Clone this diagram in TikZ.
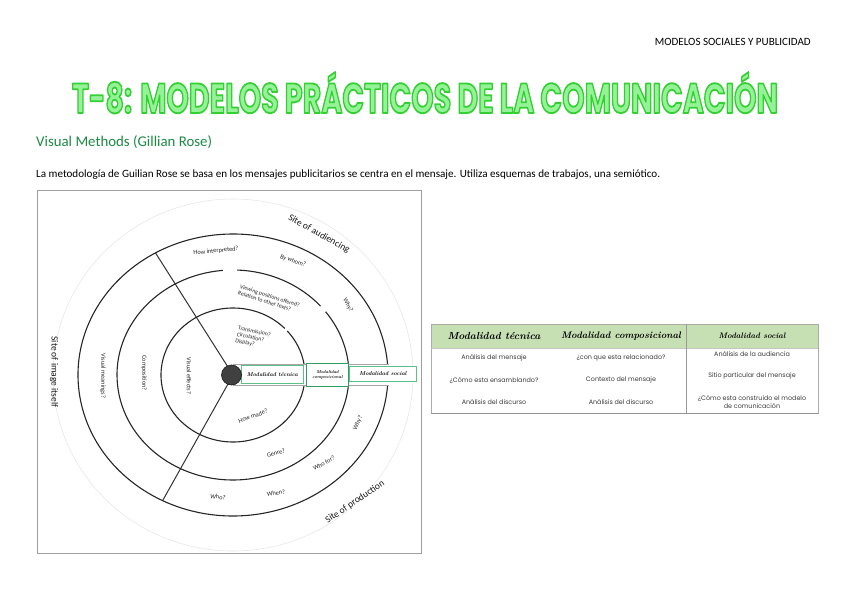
\documentclass[tikz,border=0pt]{standalone}
\usepackage{fontspec}
\newfontfamily\carl{Carlito}
\newfontfamily\popp{Poppins}
\definecolor{tdark}{HTML}{33D033}
\definecolor{tlight}{HTML}{96F296}
\definecolor{subgreen}{HTML}{1E8A46}
\definecolor{hdrgreen}{HTML}{C6E0B4}
\definecolor{boxgreen}{HTML}{5CC08A}
\definecolor{boxdark}{HTML}{2E9E5E}
\definecolor{txtgray}{HTML}{3A3A3A}
\newcommand\ttltxt{T-8: MODELOS PRÁCTICOS DE LA COMUNICACIÓN}
\newcommand\outl[1]{{\color{tlight}\special{pdf:literal direct 0.2 0.816 0.2 RG 2 Tr 2.2 w 1 j}#1\special{pdf:literal direct 0 Tr 1 w 0 j}}}
\begin{document}
\begin{tikzpicture}[x=1pt,y=-1pt,
  qlabel/.style={font=\carl\fontsize{6.3}{6.8}\selectfont, text=black!85, inner sep=0, align=center},
  sitelabel/.style={font=\carl\fontsize{9.5}{10}\selectfont, text=black!90, inner sep=0},
  ring/.style={line width=1.1pt, black!85},
  bandbox/.style={draw=boxgreen, line width=0.8pt, fill=white},
  bandtxt/.style={font=\itshape\bfseries\fontsize{5.6}{5.6}\selectfont, inner sep=0, align=center},
  tbody/.style={font=\popp\fontsize{6.4}{7.8}\selectfont, text=txtgray, inner sep=0, align=center},
  thead/.style={font=\itshape\bfseries, text=black, inner sep=0}]
\useasboundingbox (0,0) rectangle (848,599);
\fill[white] (0,0) rectangle (848,599);

% header texts
\node[anchor=base east, inner sep=0] (hdr) at (811,46) {\resizebox{156pt}{!}{\carl\fontsize{8}{8}\selectfont MODELOS SOCIALES Y PUBLICIDAD}};
\node[anchor=base, inner sep=0] (title) at (425,113) {\resizebox{706pt}{41pt}{\popp\bfseries\fontsize{50}{50}\selectfont\outl{\ttltxt}}};
\node[anchor=base west, inner sep=0] (sub) at (36,146) {\resizebox{176pt}{!}{\carl\color{subgreen}\fontsize{13}{13}\selectfont Visual Methods (Gillian Rose)}};
\node[anchor=base west, inner sep=0] (body) at (36,177) {\resizebox{624pt}{!}{\carl\fontsize{9}{10}\selectfont La metodología de Guilian Rose se basa en los mensajes publicitarios se centra en el mensaje. Utiliza esquemas de trabajos, una semiótico.}};

% diagram frame
\draw[gray!75, line width=1pt] (37,190) rectangle (421,553);

\begin{scope}[shift={(233,375)}]
  % faint outer circle
  \draw[gray!18, line width=0.6pt] (0,0) ellipse[x radius=180, y radius=176];
  % radial lines
  \draw[line width=1pt, black!80] (0,0) -- ({155*cos(-120)},{141*sin(-120)});
  \draw[line width=1pt, black!80] (0,0) -- ({155*cos(117)},{141*sin(117)});
  % inner ring
  \draw[ring] ({72*cos(-9.5)},{67*sin(-9.5)}) arc[start angle=-9.5, end angle=-41, x radius=72, y radius=67];
  \draw[ring] ({72*cos(-44)},{67*sin(-44)}) arc[start angle=-44, end angle=-351.4, x radius=72, y radius=67];
  % middle ring
  \draw[ring] ({116*cos(-6)},{105*sin(-6)}) arc[start angle=-6, end angle=-37, x radius=116, y radius=105];
  \draw[ring] ({116*cos(-41)},{105*sin(-41)}) arc[start angle=-41, end angle=-88, x radius=116, y radius=105];
  \draw[ring] ({116*cos(-95)},{105*sin(-95)}) arc[start angle=-95, end angle=-354.5, x radius=116, y radius=105];
  % outer ring
  \draw[ring] ({155*cos(-4.5)},{141*sin(-4.5)}) arc[start angle=-4.5, end angle=-355.9, x radius=155, y radius=141];
  % band
  \draw[gray!70, line width=0.8pt] (0,-11) -- (156,-11);
  \draw[gray!70, line width=0.8pt] (0,10) -- (156,10);
  \node[bandbox, minimum width=62pt, minimum height=18pt, anchor=north west] (b1) at (8,-10) {};
  \node[bandbox, draw=boxdark, line width=1pt, minimum width=42pt, minimum height=23pt, anchor=north west] (b2) at (73,-12) {};
  \node[bandbox, minimum width=67pt, minimum height=15pt, anchor=north west] (b3) at (116,-9) {};
  \node[bandtxt] (b1t) at (b1.center) {Modalidad técnica};
  \node[bandtxt, font=\itshape\bfseries\fontsize{4.3}{5}\selectfont] (b2t) at (b2.center) {Modalidad\\composicional};
  \node[bandtxt] (b3t) at (b3.center) {Modalidad social};
  % centre dot
  \fill[black!75] (-1.5,0) circle[radius=10];
  \draw[black!90, line width=0.6pt] (-1.5,0) circle[radius=10];

  % site labels
  \node[sitelabel, rotate=-29] (saud) at (86,-141) {Site of audiencing};
  \node[sitelabel, rotate=34] (sprod) at (122,127) {Site of production};
  \node[sitelabel, rotate=-90] (simg) at (-179,-3) {Site of image itself};

  % question labels
  \node[qlabel, rotate=5] (q1) at (-17,-124) {How interpreted?};
  \node[qlabel, rotate=-18] (q2) at (60,-114) {By whom?};
  \node[qlabel, rotate=-62] (q3) at (115,-70) {Why?};
  \node[qlabel, rotate=-18, align=left, font=\carl\fontsize{5.8}{6.3}\selectfont] (q4) at (36,-76) {Viewing positions offered?\\Relation to other texts?};
  \node[qlabel, rotate=-12, align=left, font=\carl\fontsize{5.8}{6.5}\selectfont] (q5) at (20,-37) {Transmission?\\Circulation?\\Display?};
  \node[qlabel, rotate=-90] (q6) at (-44,1) {Visual effects?};
  \node[qlabel, rotate=-90] (q7) at (-89,-2) {Composition?};
  \node[qlabel, rotate=-90] (q8) at (-130,1) {Visual meanings?};
  \node[qlabel, rotate=20] (q9) at (20,41) {How made?};
  \node[qlabel, rotate=15] (q10) at (43,78) {Genre?};
  \node[qlabel, rotate=30] (q11) at (91,88) {Who for?};
  \node[qlabel, rotate=65] (q12) at (125,48) {Why?};
  \node[qlabel, rotate=10] (q13) at (43,118) {When?};
  \node[qlabel, rotate=-8] (q14) at (-15,122) {Who?};
\end{scope}

% table
\fill[hdrgreen] (431,324) rectangle (818,348);
\draw[gray!65, line width=0.8pt] (431,324) rectangle (818,413);
\draw[gray!45, line width=0.5pt] (431,348) -- (818,348);
\draw[gray!80, line width=0.8pt] (686,324) -- (686,413);
\draw[gray!85, line width=1pt] (431,413) -- (818,413);
\node[thead] (h1) at (494,336) {\resizebox{93pt}{!}{Modalidad técnica}};
\node[thead] (h2) at (621,336) {\resizebox{120pt}{!}{Modalidad composicional}};
\node[thead] (h3) at (752,336) {\resizebox{67pt}{!}{Modalidad social}};
\node[tbody] (r11) at (494,358) {Análisis del mensaje};
\node[tbody] (r12) at (494,380) {¿Cómo esta ensamblando?};
\node[tbody] (r13) at (494,402) {Análisis del discurso};
\node[tbody] (r21) at (621,358) {¿con que esta relacionado?};
\node[tbody] (r22) at (621,380) {Contexto del mensaje};
\node[tbody] (r23) at (621,402) {Análisis del discurso};
\node[tbody] (r31) at (752,354) {Análisis de la audiencia};
\node[tbody] (r32) at (752,376) {Sitio particular del mensaje};
\node[tbody] (r33) at (752,402) {¿Cómo esta construido el modelo\\de comunicación};
\end{tikzpicture}
\end{document}
